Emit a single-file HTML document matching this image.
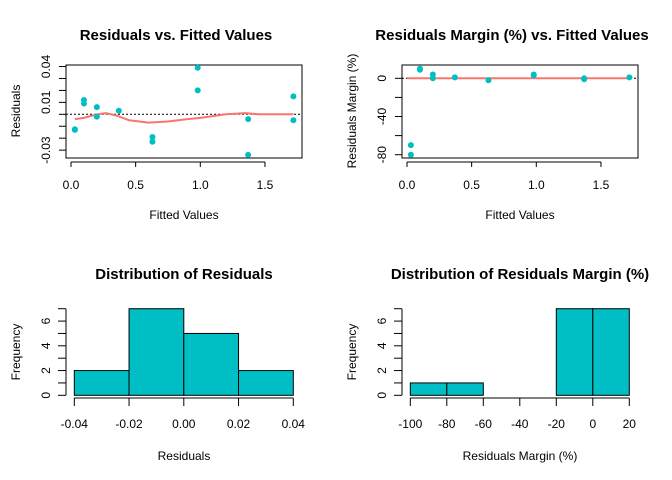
<!DOCTYPE html>
<html><head><meta charset="utf-8"><style>
body{margin:0;background:#fff}
svg{display:block;font-family:"Liberation Sans",Arial,sans-serif}
.t{font-weight:bold;font-size:15px}
.l{font-size:12px}
</style></head><body>
<svg id="s" width="672" height="480"></svg>
<script>
// Panel 1 data
const fitted = [0.03,0.03,0.1,0.1,0.2,0.2,0.37,0.63,0.63,0.98,0.98,1.37,1.37,1.72,1.72];
const resid = [-0.013,-0.0125,0.012,0.009,0.006,-0.002,0.003,-0.019,-0.023,0.039,0.020,-0.004,-0.034,0.015,-0.005];
const smoothX = [0.03,0.1,0.2,0.27,0.35,0.45,0.6,0.75,0.9,1.0,1.2,1.35,1.45,1.72];
const smoothY = [-0.004,-0.003,0,0.001,-0.001,-0.005,-0.007,-0.006,-0.004,-0.003,0,0.001,0,0];
// Panel 2 data
const fitted2 = [0.03,0.03,0.1,0.1,0.2,0.2,0.37,0.63,0.98,0.98,1.37,1.37,1.72];
const margin = [-70,-80,10,9,4,0,1,-2,4,3,0,-1,1];
// Histograms
const h1Breaks = [-0.04,-0.02,0,0.02,0.04];
const h1Counts = [2,7,5,2];
const h2Breaks = [-100,-80,-60,-40,-20,0,20];
const h2Counts = [1,1,0,0,7,7];
const xTicksFit = [0,0.5,1.0,1.5];
const xLabelsFit = ["0.0","0.5","1.0","1.5"];
const yTicks1 = [-0.03,-0.02,-0.01,0,0.01,0.02,0.03,0.04];
const yLab1 = {"-0.03":"-0.03","0.01":"0.01","0.04":"0.04"};
const yTicks2 = [0,-20,-40,-60,-80];
const yLab2 = {"0":"0","-40":"-40","-80":"-80"};
const h1Labels = ["-0.04","-0.02","0.00","0.02","0.04"];
const h2Labels = ["-100","-80","-60","-40","-20","0","20"];
const freqTicks = [0,1,2,3,4,5,6,7];

const S=document.getElementById('s');const NS='http://www.w3.org/2000/svg';
function el(t,a,p){const e=document.createElementNS(NS,t);for(const k in a)e.setAttribute(k,a[k]);(p||S).appendChild(e);return e;}
function txt(x,y,s,cls,name,rot){const e=el('text',{x:x,y:y,'text-anchor':'middle',class:cls});e.textContent=s;


if(rot)e.setAttribute('transform','rotate(-90 '+x+' '+y+')');return e;}
function line(x1,y1,x2,y2,st){return el('line',Object.assign({x1:x1,y1:y1,x2:x2,y2:y2,stroke:'#000','stroke-width':1},st||{}));}

function scatterPanel(ox,xs,ys,y0px,yscale,yt,yl,sx,sy,title,ylab,isPct){
  const fx=v=>ox+71+v*129.3, fy=v=>y0px-v*yscale;
  txt(ox+176,40,title,'t','chart-title');
  const g=el('g',{});
  
  
  el('rect',{x:ox+66,y:65,width:236,height:93,fill:'none',stroke:'#000'},g);
  line(ox+66,fy(0),ox+302,fy(0),{'stroke-dasharray':'2,2'});
  const pts=sx.map((v,i)=>fx(v)+','+fy(sy[i])).join(' ');
  const pl=el('polyline',{points:pts,fill:'none',stroke:'#f8766d','stroke-width':2});
  
  
  xs.forEach((v,i)=>{const c=el('circle',{cx:fx(v),cy:fy(ys[i]),r:3,fill:'#00bfc4'});
    
    });
  line(fx(xTicksFit[0]),162,fx(xTicksFit[3]),162);
  xTicksFit.forEach((v,i)=>{line(fx(v),162,fx(v),167);txt(fx(v),189,xLabelsFit[i],'l','x-tick-label');});
  yt.forEach(v=>{line(ox+59,fy(v),ox+66,fy(v));if(yl[String(v)]!==undefined)txt(ox+46,fy(v),yl[String(v)],'l','y-tick-label',true);});
  txt(ox+184,219,'Fitted Values','l','x-axis-title');
  txt(ox+16,111,ylab,'l','y-axis-title',true);
}
scatterPanel(0,fitted,resid,114.3,1194,yTicks1,yLab1,smoothX,smoothY,'Residuals vs. Fitted Values','Residuals',false);
scatterPanel(336,fitted2,margin,78.3,0.955,yTicks2,yLab2,[0,1.72],[0,0],'Residuals Margin (%) vs. Fitted Values','Residuals Margin (%)',true);

function hist(ox,br,cnt,labs,title,xlab){
  const lo=br[0],hi=br[br.length-1];
  const fx=v=>ox+74.3+(v-lo)/(hi-lo)*219, fy=v=>395.3-v*12.37;
  txt(ox+184,279,title,'t','chart-title');
  cnt.forEach((c,i)=>{const r=el('rect',{x:fx(br[i]),y:fy(c),width:fx(br[i+1])-fx(br[i]),height:Math.max(fy(0)-fy(c),0),fill:'#00bfc4',stroke:'#000'});
    
    });
  line(fx(lo),398,fx(hi),398);
  br.forEach((v,i)=>{line(fx(v),398,fx(v),406);txt(fx(v),428,labs[i],'l','x-tick-label');});
  line(66+ox,fy(0),66+ox,fy(7));
  freqTicks.forEach(v=>{line(58+ox,fy(v),66+ox,fy(v));if(v%2==0)txt(ox+46,fy(v),String(v),'l','y-tick-label',true);});
  txt(ox+184,460,xlab,'l','x-axis-title');
  txt(ox+16,352,'Frequency','l','y-axis-title',true);
}
hist(0,h1Breaks,h1Counts,h1Labels,'Distribution of Residuals','Residuals');
hist(336,h2Breaks,h2Counts,h2Labels,'Distribution of Residuals Margin (%)','Residuals Margin (%)');
document.querySelectorAll('text').forEach(t=>{if(t.getAttribute('transform'))t.setAttribute('dy','0.35em');});
</script>
</body></html>
